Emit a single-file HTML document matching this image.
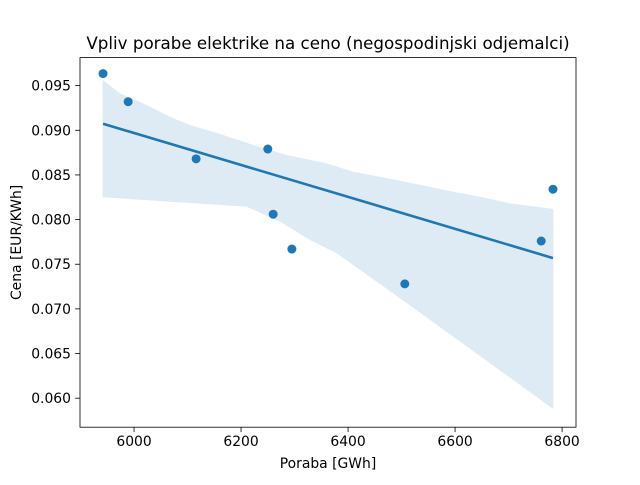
<!DOCTYPE html>
<html><head><meta charset="utf-8"><style>
body{margin:0;background:#fff}
svg{font-family:"DejaVu Sans","Liberation Sans",sans-serif}
</style></head><body>
<svg id="chart" width="640" height="480"></svg>
<script>
const consumption=[5942,5989,6116,6250,6260,6295,6506,6761,6783];
const price=[0.09635,0.0932,0.0868,0.0879,0.0806,0.0767,0.0728,0.0776,0.0834];
const bandUpperX=[5941.4,5973.8,6023.7,6067.2,6104.6,6166.8,6222.9,6285.3,6360.1,6409.8,6490.9,6596.7,6646.6,6702.6,6783.6];
const bandUpperY=[0.09563,0.09414,0.09283,0.09152,0.09059,0.08947,0.08835,0.08723,0.08630,0.08536,0.08443,0.08312,0.08256,0.08182,0.08119];
const bandLowerX=[5941.4,6210.6,6272.8,6328.9,6378.8,6497.1,6783.6];
const bandLowerY=[0.08250,0.08144,0.07976,0.07771,0.07622,0.07119,0.05879];
const xTicks=[6000,6200,6400,6600,6800];
const yTicks=[0.060,0.065,0.070,0.075,0.080,0.085,0.090,0.095];
const L=80,R=576,T=57.6,B=427.2;
const xMin=5899,xMax=6826,yMin=0.05675,yMax=0.09814;
const sx=v=>L+(v-xMin)/(xMax-xMin)*(R-L);
const sy=v=>B-(v-yMin)/(yMax-yMin)*(B-T);
const svg=document.getElementById('chart');
const NS='http://www.w3.org/2000/svg';
function mk(tag,attrs,parent){const e=document.createElementNS(NS,tag);for(const k in attrs)e.setAttribute(k,attrs[k]);(parent||svg).appendChild(e);return e;}
const n=consumption.length;
const mx=consumption.reduce((a,b)=>a+b)/n,my=price.reduce((a,b)=>a+b)/n;
let sxx=0,sxy=0;for(let i=0;i<n;i++){sxx+=(consumption[i]-mx)**2;sxy+=(consumption[i]-mx)*(price[i]-my);}
const b1=sxy/sxx,b0=my-b1*mx;
const x0=Math.min(...consumption),x1=Math.max(...consumption);
let pts=[];
for(let i=0;i<bandUpperX.length;i++)pts.push(sx(bandUpperX[i])+','+sy(bandUpperY[i]));
for(let i=bandLowerX.length-1;i>=0;i--)pts.push(sx(bandLowerX[i])+','+sy(bandLowerY[i]));
const band=mk('polygon',{points:pts.join(' '),fill:'#1f77b4','fill-opacity':0.15});


const line=mk('line',{x1:sx(x0),y1:sy(b0+b1*x0),x2:sx(x1),y2:sy(b0+b1*x1),stroke:'#1f77b4','stroke-width':2.6});


for(let i=0;i<n;i++){const c=mk('circle',{cx:sx(consumption[i]),cy:sy(price[i]),r:4.5,fill:'#1f77b4'});

}
mk('rect',{x:L,y:T,width:R-L,height:B-T,fill:'none',stroke:'#000','stroke-width':0.8});
xTicks.forEach(v=>{mk('line',{x1:sx(v),x2:sx(v),y1:B,y2:B+4.9,stroke:'#000','stroke-width':0.8});
const t=mk('text',{x:sx(v),y:B+19,'text-anchor':'middle','font-size':13.9});t.textContent=v;

});
yTicks.forEach(v=>{mk('line',{x1:L,x2:L-4.9,y1:sy(v),y2:sy(v),stroke:'#000','stroke-width':0.8});
const t=mk('text',{x:L-9,y:sy(v)+5,'text-anchor':'end','font-size':13.9});t.textContent=v.toFixed(3);

});
const xt=mk('text',{x:(L+R)/2,y:468,'text-anchor':'middle','font-size':13.9});xt.textContent='Poraba [GWh]';


const yt=mk('text',{x:0,y:0,'text-anchor':'middle','font-size':13.9,transform:'translate(21,'+((T+B)/2)+') rotate(-90)'});yt.textContent='Cena [EUR/KWh]';


const ti=mk('text',{x:(L+R)/2,y:49,'text-anchor':'middle','font-size':16.7});ti.textContent='Vpliv porabe elektrike na ceno (negospodinjski odjemalci)';


</script>
</body></html>
